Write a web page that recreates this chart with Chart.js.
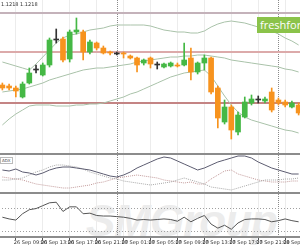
<!DOCTYPE html>
<html>
<head>
<meta charset="utf-8">
<script src="https://cdn.jsdelivr.net/npm/chart.js@4.4.1/dist/chart.umd.min.js"></script>
<style>
  body { margin: 0; background: #fff; }
  #box { position: relative; width: 300px; height: 250px; overflow: hidden; background: #fff; font-family: 'DejaVu Sans', sans-serif; }
  canvas { position: absolute; left: -1px; }
  .sep { position: absolute; left: 0; width: 300px; height: 2px; background: #8c8c8c; }
  #mark { position: absolute; left: 86px; top: 196px; font: italic bold 44px 'Liberation Sans', sans-serif; color: #ececec; letter-spacing: -1px; }
  #brand { position: absolute; left: 257px; top: 17px; width: 60px; height: 16px; background: #8bc34a; color: #fff; font: 11px 'Open Sans', sans-serif; line-height: 16px; padding-left: 3px; }
  #info { position: absolute; left: 1px; top: 1px; font-size: 5px; color: #333; }
  #adxname { position: absolute; left: 0; top: 157px; font-size: 4px; color: #444; border: 1px solid #bbb; padding: 0 1px; background: #fff; }
</style>
</head>
<body>
<div id="box">
  <div id="mark">SMGroup</div>
  <canvas id="price" width="303" height="153" style="top:0"></canvas>
  <div class="sep" style="top:153px"></div>
  <canvas id="adx" width="303" height="37" style="top:155px"></canvas>
  <div class="sep" style="top:192px"></div>
  <canvas id="rsi" width="303" height="56" style="top:194px"></canvas>
  <div id="info">1.1218 1.1218</div>
  <div id="adxname">ADX</div>
  <div id="brand">freshforex</div>
</div>
<script>
const times = [
    '26 Sep 07:00', '26 Sep 08:00', '26 Sep 09:00', '26 Sep 10:00', '26 Sep 11:00', '26 Sep 12:00',
    '26 Sep 13:00', '26 Sep 14:00', '26 Sep 15:00', '26 Sep 16:00', '26 Sep 17:00', '26 Sep 18:00',
    '26 Sep 19:00', '26 Sep 20:00', '26 Sep 21:00', '26 Sep 22:00', '26 Sep 23:00',
    '27 Sep 00:00', '27 Sep 01:00', '27 Sep 02:00', '27 Sep 03:00', '27 Sep 04:00', '27 Sep 05:00',
    '27 Sep 06:00', '27 Sep 07:00', '27 Sep 08:00', '27 Sep 09:00', '27 Sep 10:00', '27 Sep 11:00',
    '27 Sep 12:00', '27 Sep 13:00', '27 Sep 14:00', '27 Sep 15:00', '27 Sep 16:00', '27 Sep 17:00',
    '27 Sep 18:00', '27 Sep 19:00', '27 Sep 20:00', '27 Sep 21:00', '27 Sep 22:00', '27 Sep 23:00',
    '28 Sep 00:00', '28 Sep 01:00', '28 Sep 02:00', '28 Sep 03:00'
];
const tickLabels = ['26 Sep 09:00', '26 Sep 13:00', '26 Sep 17:00', '26 Sep 21:00', '27 Sep 01:00', '27 Sep 05:00',
    '27 Sep 09:00', '27 Sep 13:00', '27 Sep 17:00', '27 Sep 21:00', '28 Sep 01:00'];
const daySeparators = ['27 Sep 00:00', '28 Sep 00:00'];

const opens = [1.1215, 1.1214, 1.1212, 1.1203, 1.1217, 1.1230, 1.1225, 1.1235, 1.1260, 1.1261, 1.1241, 1.1268,
    1.1268, 1.1248, 1.1257, 1.1252, 1.1248, 1.1246, 1.1247, 1.1244, 1.1242, 1.1237, 1.1242, 1.1235, 1.1233,
    1.1234, 1.1235, 1.1235, 1.1242, 1.1228, 1.1237, 1.1242, 1.1212, 1.1178, 1.1193, 1.1168, 1.1183, 1.1197,
    1.1200, 1.1199, 1.1208, 1.1200, 1.1198, 1.1193, 1.1195];
const highs = [1.1217, 1.1216, 1.1214, 1.1218, 1.1232, 1.1235, 1.1237, 1.1262, 1.1271, 1.1263, 1.1270, 1.1282,
    1.1270, 1.1260, 1.1258, 1.1254, 1.1249, 1.1248, 1.1248, 1.1245, 1.1243, 1.1241, 1.1243, 1.1238, 1.1237,
    1.1238, 1.1237, 1.1257, 1.1252, 1.1238, 1.1245, 1.1243, 1.1214, 1.1200, 1.1195, 1.1188, 1.1203, 1.1205,
    1.1204, 1.1203, 1.1212, 1.1202, 1.1200, 1.1199, 1.1197];
const lows = [1.1210, 1.1210, 1.1203, 1.1202, 1.1216, 1.1227, 1.1224, 1.1233, 1.1257, 1.1238, 1.1238, 1.1266,
    1.1240, 1.1246, 1.1250, 1.1246, 1.1245, 1.1245, 1.1242, 1.1241, 1.1228, 1.1235, 1.1232, 1.1231, 1.1232,
    1.1233, 1.1233, 1.1234, 1.1220, 1.1226, 1.1230, 1.1206, 1.1172, 1.1176, 1.1161, 1.1165, 1.1182, 1.1195,
    1.1197, 1.1197, 1.1188, 1.1195, 1.1193, 1.1192, 1.1185];
const closes = [1.1212, 1.1212, 1.1209, 1.1216, 1.1227, 1.1230, 1.1235, 1.1260, 1.1260, 1.1240, 1.1268, 1.1270,
    1.1248, 1.1258, 1.1252, 1.1247, 1.1247, 1.1246, 1.1246, 1.1242, 1.1235, 1.1240, 1.1236, 1.1235, 1.1236,
    1.1237, 1.1234, 1.1240, 1.1228, 1.1237, 1.1242, 1.1208, 1.1182, 1.1193, 1.1170, 1.1185, 1.1198, 1.1201,
    1.1200, 1.1201, 1.1190, 1.1197, 1.1195, 1.1197, 1.1187];

const bandUpper = [1.1238, 1.1236, 1.1234, 1.1232, 1.1230, 1.1236, 1.1243, 1.1250, 1.1257, 1.1262, 1.1265, 1.1266,
    1.1268, 1.1270, 1.1271, 1.1272, 1.1274, 1.1275, 1.1275, 1.1275, 1.1275, 1.1275, 1.1274, 1.1272, 1.1270,
    1.1269, 1.1268, 1.1268, 1.1267, 1.1267, 1.1269, 1.1273, 1.1276, 1.1278, 1.1279, 1.1278, 1.1277, 1.1275,
    1.1273, 1.1271, 1.1269, 1.1266, 1.1262, 1.1259, 1.1255];
const bandMiddle = [1.1208, 1.1209, 1.1210, 1.1211, 1.1213, 1.1215, 1.1217, 1.1220, 1.1222, 1.1224, 1.1226, 1.1228,
    1.1230, 1.1231, 1.1232, 1.1232, 1.1233, 1.1234, 1.1235, 1.1236, 1.1238, 1.1239, 1.1240, 1.1241, 1.1242,
    1.1243, 1.1243, 1.1244, 1.1244, 1.1245, 1.1245, 1.1244, 1.1243, 1.1242, 1.1240, 1.1239, 1.1238, 1.1237,
    1.1236, 1.1235, 1.1234, 1.1233, 1.1231, 1.1230, 1.1228];
const bandLower = [1.1175, 1.1181, 1.1186, 1.1190, 1.1194, 1.1195, 1.1195, 1.1195, 1.1194, 1.1194, 1.1194, 1.1195,
    1.1195, 1.1196, 1.1196, 1.1197, 1.1199, 1.1201, 1.1203, 1.1206, 1.1208, 1.1211, 1.1214, 1.1217, 1.1220,
    1.1223, 1.1225, 1.1227, 1.1228, 1.1229, 1.1230, 1.1224, 1.1214, 1.1204, 1.1195, 1.1188, 1.1183, 1.1180,
    1.1178, 1.1176, 1.1174, 1.1172, 1.1170, 1.1169, 1.1167];

// horizontal lines on the price pane
const levelPrices = [1.1287, 1.1248, 1.1197];
const levelColors = ['#c4b2ba', '#dcaaaa', '#c48484'];

const adxMain = [33, 32, 34, 31, 30, 28, 30, 33, 35, 36, 36, 35, 34, 33, 31, 29, 27, 26, 28, 31, 35, 38, 41, 44,
    46, 45, 42, 39, 36, 33, 35, 38, 41, 43, 45, 47, 47, 45, 41, 38, 35, 33, 31, 29, 29];
const plusDI = [23, 23, 24, 25, 28, 31, 33, 36, 38, 38, 37, 36, 34, 31, 29, 27, 25, 24, 22, 21, 20, 19, 18, 19,
    20, 21, 23, 25, 23, 21, 19, 16, 15, 14, 13, 15, 17, 19, 21, 23, 23, 23, 24, 24, 25];
const minusDI = [26, 25, 24, 23, 21, 19, 18, 17, 16, 15, 15, 16, 17, 18, 20, 21, 23, 25, 26, 27, 28, 27, 26, 25,
    23, 22, 21, 20, 21, 19, 19, 24, 28, 32, 33, 29, 27, 25, 23, 22, 21, 21, 21, 22, 22];

const rsi = [54, 51, 49, 60, 67, 69, 74, 79, 80, 64, 72, 72, 60, 61, 57, 56, 56, 55, 54, 52, 49, 50, 49, 50,
    51, 50, 47, 54, 46, 52, 57, 42, 35, 40, 33, 44, 50, 51, 51, 50, 46, 48, 51, 48, 46];
const rsiLevels = [70, 30];

const GREEN = '#45b845', ORANGE = '#f7931e', DOJI = '#333333', BAND = '#a9c2a9';

function candleColor(i) {
    if (closes[i] > opens[i]) return GREEN;
    if (closes[i] < opens[i]) return ORANGE;
    return DOJI;
}

function xAxis(withLabels) {
    return {
        type: 'category',
        offset: true,
        grid: {
            offset: false,
            color: c => tickLabels.includes(times[c.index]) ? '#ececec' : 'rgba(0,0,0,0)',
            drawTicks: withLabels,
            tickLength: 3,
            tickColor: c => tickLabels.includes(times[c.index]) ? '#555' : 'rgba(0,0,0,0)'
        },
        border: withLabels ? { display: true, color: '#8c8c8c', width: 2 } : { display: false },
        ticks: {
            display: withLabels,
            autoSkip: false,
            maxRotation: 0,
            align: 'start',
            labelOffset: -2,
            padding: 0,
            color: '#333',
            font: { family: 'DejaVu Sans', size: 5 },
            callback: function (v) {
                const l = this.getLabelForValue(v);
                return tickLabels.includes(l) ? l : '';
            }
        },
        afterFit: s => { s.height = withLabels ? 13 : 0; }
    };
}

const daySepPlugin = {
    id: 'daySep',
    beforeDatasetsDraw(chart) {
        const ctx = chart.ctx, xs = chart.scales.x, a = chart.chartArea;
        ctx.save();
        ctx.strokeStyle = '#8a8a8a';
        ctx.lineWidth = 1;
        ctx.setLineDash([1, 1]);
        daySeparators.forEach(d => {
            const x = Math.round(xs.getPixelForValue(times.indexOf(d))) + 0.5;
            ctx.beginPath();
            ctx.moveTo(x, a.top);
            ctx.lineTo(x, a.bottom);
            ctx.stroke();
        });
        ctx.restore();
    }
};

function hLinesPlugin(values, colors, width, dash) {
    return {
        id: 'hlines',
        beforeDatasetsDraw(chart) {
            const ctx = chart.ctx, ys = chart.scales.y, a = chart.chartArea;
            ctx.save();
            ctx.lineWidth = width;
            ctx.setLineDash(dash);
            values.forEach((v, k) => {
                const y = Math.round(ys.getPixelForValue(v)) + (width % 2 ? 0.5 : 0);
                ctx.strokeStyle = colors[k];
                ctx.beginPath();
                ctx.moveTo(a.left, y);
                ctx.lineTo(a.right, y);
                ctx.stroke();
            });
            ctx.restore();
        }
    };
}

const common = {
    responsive: false,
    animation: false,
    layout: { padding: 0 },
    plugins: { legend: { display: false }, tooltip: { enabled: false } }
};

new Chart(document.getElementById('price'), {
    type: 'bar',
    data: {
        labels: times,
        datasets: [{
            type: 'line', data: bandUpper, borderColor: BAND, borderWidth: 1, pointRadius: 0, order: 5
        }, {
            type: 'line', data: bandMiddle, borderColor: BAND, borderWidth: 1, pointRadius: 0, order: 5
        }, {
            type: 'line', data: bandLower, borderColor: BAND, borderWidth: 1, pointRadius: 0, order: 5
        }, {
            data: times.map((t, i) => [lows[i], highs[i]]),
            backgroundColor: times.map((t, i) => candleColor(i)),
            barThickness: 1, grouped: false, order: 2
        }, {
            data: times.map((t, i) => [opens[i], closes[i]]),
            backgroundColor: times.map((t, i) => candleColor(i)),
            barThickness: 5, minBarLength: 1, grouped: false, order: 1
        }]
    },
    options: {
        ...common,
        scales: {
            x: xAxis(false),
            y: { display: false, min: 1.1147, max: 1.1300 }
        }
    },
    plugins: [daySepPlugin, hLinesPlugin(levelPrices, levelColors, 2, [])]
});

new Chart(document.getElementById('adx'), {
    type: 'line',
    data: {
        labels: times,
        datasets: [{
            data: adxMain, borderColor: '#5c5c70', borderWidth: 1, pointRadius: 0
        }, {
            data: plusDI, borderColor: '#a8a8a8', borderWidth: 1, borderDash: [1, 1], pointRadius: 0
        }, {
            data: minusDI, borderColor: '#c29a9a', borderWidth: 1, borderDash: [1, 1], pointRadius: 0
        }]
    },
    options: {
        ...common,
        scales: {
            x: xAxis(false),
            y: { display: false, min: 11, max: 48 }
        }
    },
    plugins: [daySepPlugin]
});

new Chart(document.getElementById('rsi'), {
    type: 'line',
    data: {
        labels: times,
        datasets: [{
            data: rsi, borderColor: '#555555', borderWidth: 1, pointRadius: 0
        }]
    },
    options: {
        ...common,
        scales: {
            x: xAxis(true),
            y: { display: false, min: 19.6, max: 94.3 }
        }
    },
    plugins: [daySepPlugin, hLinesPlugin(rsiLevels, ['#a0a0a0', '#a0a0a0'], 1, [1, 2])]
});
</script>
</body>
</html>
